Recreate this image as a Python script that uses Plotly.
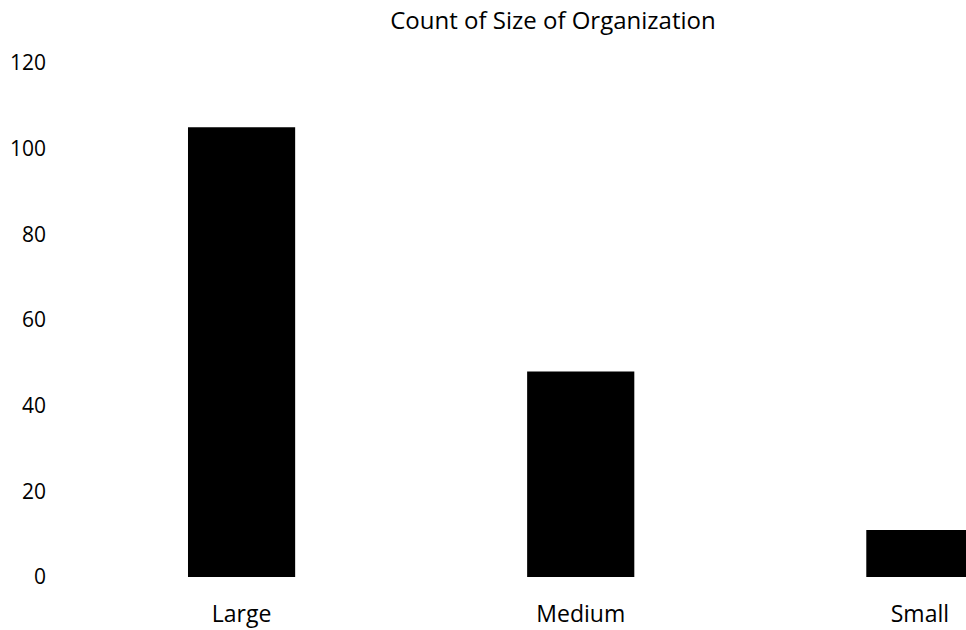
import plotly.graph_objects as go

categories = ["Large", "Medium", "Small"]
counts = [105, 48, 11]
y_ticks = [0, 20, 40, 60, 80, 100, 120]

FONT = "Open Sans"

fig = go.Figure(
    go.Bar(
        x=categories,
        y=counts,
        marker=dict(color="#000000", line=dict(width=0)),
        width=0.316,
    )
)

fig.update_layout(
    width=966,
    height=630,
    margin=dict(l=72, r=0, t=63, b=53),
    paper_bgcolor="white",
    plot_bgcolor="white",
    showlegend=False,
    font=dict(family=FONT, color="#000000"),
    title=dict(
        text="Count of Size of Organization",
        x=0.538,
        xanchor="center",
        xref="paper",
        y=0.967,
        yanchor="middle",
        font=dict(family=FONT, size=24, color="#000000"),
    ),
)

fig.update_xaxes(
    type="category",
    range=[-0.5, 2.136],
    showgrid=False,
    showline=False,
    zeroline=False,
    ticks="",
    tickfont=dict(family=FONT, size=23, color="#000000"),
    ticklabelstandoff=21,
)

fig.update_yaxes(
    range=[0, 120],
    tickvals=y_ticks,
    ticktext=[str(v) for v in y_ticks],
    showgrid=False,
    showline=False,
    zeroline=False,
    ticks="",
    tickfont=dict(family=FONT, size=21, color="#000000"),
    ticklabelstandoff=25,
)

fig.write_html("out.html")
